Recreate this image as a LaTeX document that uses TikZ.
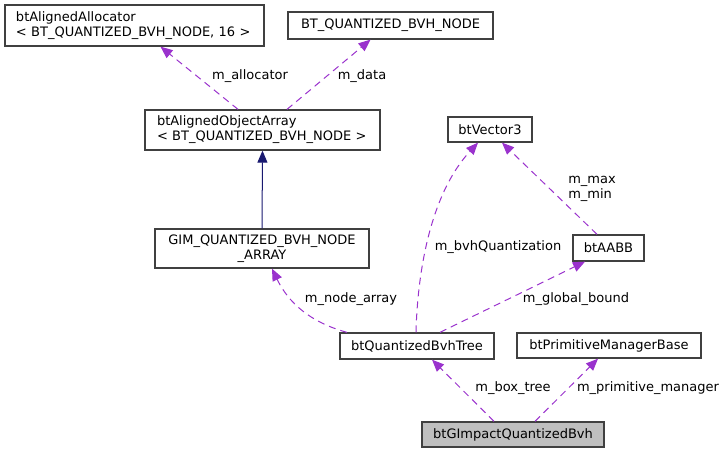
\documentclass[tikz,border=0pt]{standalone}
\usepackage{fontspec}
\setmainfont{DejaVu Sans}
\usetikzlibrary{arrows.meta}
\definecolor{edgepurple}{HTML}{9A32CD}
\definecolor{navyblue}{HTML}{191970}
\definecolor{boxline}{HTML}{404040}
\definecolor{curfill}{HTML}{BFBFBF}
\begin{document}
\begin{tikzpicture}[x=1pt,y=-1pt,
  cls/.style={draw=boxline, line width=1.3pt, inner sep=0pt, font=\fontsize{13}{15}\selectfont, fill=white},
  member/.style={draw=edgepurple, line width=1pt, dash pattern=on 7pt off 5pt, -{Triangle[length=12pt,width=10pt,fill=edgepurple]}, shorten >=0pt},
  inherit/.style={draw=navyblue, line width=1pt, -{Triangle[length=12pt,width=10pt,fill=navyblue]}},
  lbl/.style={font=\fontsize{13}{15}\selectfont, inner sep=0pt}]
\useasboundingbox (0,0) rectangle (727,453);
% nodes
\node[cls, text width=237pt, inner xsep=11pt, minimum height=41pt, align=left] (alloc) at (134.5,25.5) {btAlignedAllocator\\\textless{} BT\_QUANTIZED\_BVH\_NODE, 16 \textgreater};
\node[cls, minimum width=205pt, minimum height=27pt] (bnode) at (390.5,25.5) {BT\_QUANTIZED\_BVH\_NODE};
\node[cls, text width=211pt, inner xsep=12pt, minimum height=40pt, align=left] (arr) at (262.5,130) {btAlignedObjectArray\\\textless{} BT\_QUANTIZED\_BVH\_NODE \textgreater};
\node[cls, minimum width=214pt, minimum height=39pt, align=center] (gim) at (262,248.5) {GIM\_QUANTIZED\_BVH\_NODE\\\_ARRAY};
\node[cls, minimum width=84pt, minimum height=25pt] (vec) at (490,129.5) {btVector3};
\node[cls, minimum width=71pt, minimum height=26pt] (aabb) at (608.5,248) {btAABB};
\node[cls, minimum width=154pt, minimum height=26pt] (tree) at (417,346) {btQuantizedBvhTree};
\node[cls, minimum width=184pt, minimum height=25pt] (pmb) at (609,345.5) {btPrimitiveManagerBase};
\node[cls, fill=curfill, minimum width=182pt, minimum height=25pt] (gimp) at (513,434.5) {btGImpactQuantizedBvh};
% edges
\draw[member] ([xshift=-19pt]gimp.north) -- ([xshift=15pt]tree.south);
\node[lbl] (l1) at (513,388) {m\_box\_tree};
\draw[member] ([xshift=22pt]gimp.north) -- ([xshift=-11pt]pmb.south);
\node[lbl] (l2) at (648,388) {m\_primitive\_manager};
\draw[member] ([xshift=23pt]tree.north) -- ([xshift=-23.5pt]aabb.south);
\node[lbl] (l3) at (576,299) {m\_global\_bound};
\draw[member] ([xshift=-1pt]tree.north) .. controls (417,290) and (425,200) .. ([xshift=-12pt]vec.south);
\node[lbl] (l4) at (498,247) {m\_bvhQuantization};
\draw[member] ([xshift=-70pt]tree.north) .. controls (320,325) and (292,310) .. ([xshift=10pt]gim.south);
\node[lbl] (l5) at (351,299) {m\_node\_array};
\draw[member] ([xshift=-11.5pt]aabb.north) -- ([xshift=12pt]vec.south);
\node[lbl, align=left] (l6) at (592,188.5) {m\_max\\m\_min};
\draw[member] ([xshift=-24.5pt]arr.north) -- ([xshift=26pt]alloc.south);
\node[lbl] (l7) at (250,76) {m\_allocator};
\draw[member] ([xshift=24.5pt]arr.north) -- ([xshift=-20pt]bnode.south);
\node[lbl] (l8) at (362,76) {m\_data};
\draw[inherit] (gim.north) -- (arr.south);
\end{tikzpicture}
\end{document}
